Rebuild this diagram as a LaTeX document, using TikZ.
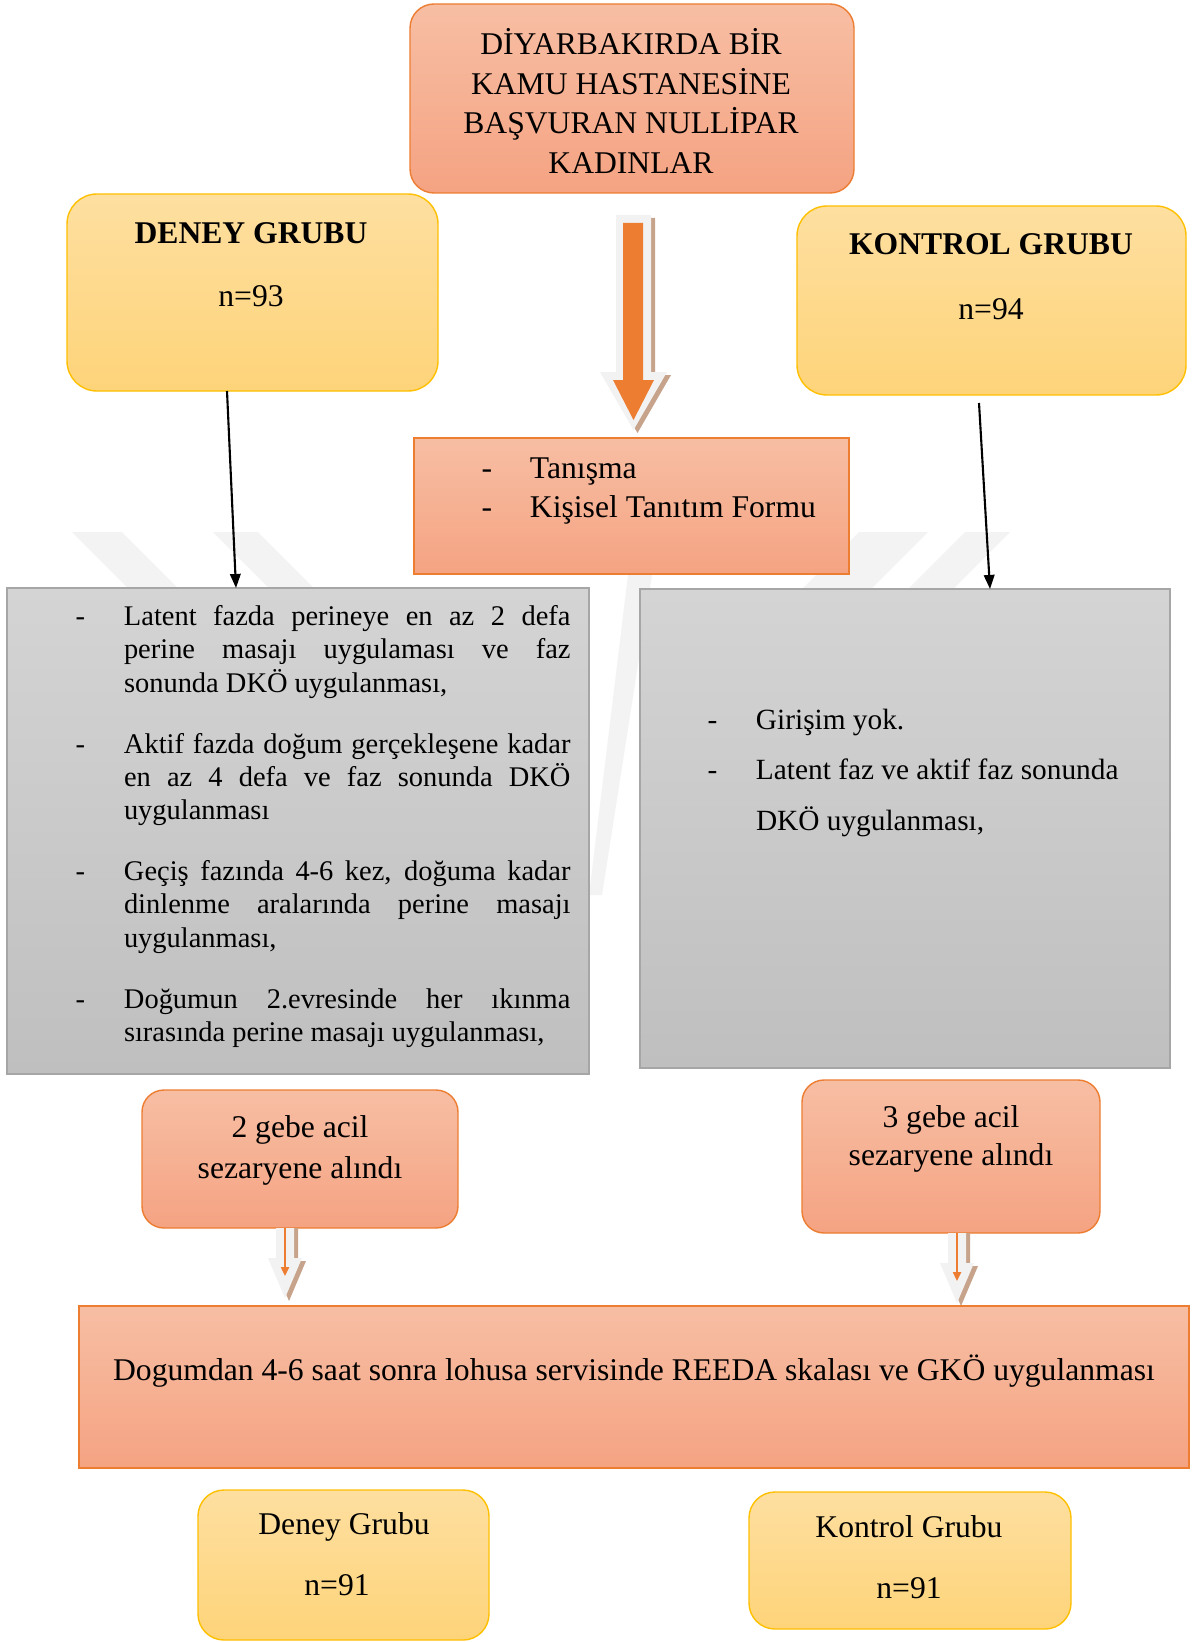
\documentclass[tikz,border=0pt]{standalone}
\usepackage{fontspec}
\setmainfont{Liberation Serif}
\usetikzlibrary{arrows.meta,positioning,calc}
\definecolor{fcSalmonT}{RGB}{247,190,164}
\definecolor{fcSalmonB}{RGB}{245,163,130}
\definecolor{fcOrange} {RGB}{237,125, 49}
\definecolor{fcGoldT}  {RGB}{254,223,160}
\definecolor{fcGoldB}  {RGB}{254,212,122}
\definecolor{fcGold}   {RGB}{255,192,  0}
\definecolor{fcGreyT}  {RGB}{212,212,212}
\definecolor{fcGreyB}  {RGB}{191,191,191}
\definecolor{fcGreyD}  {RGB}{166,166,166}
\definecolor{fcPale}   {RGB}{242,242,242}
\definecolor{fcShade}  {RGB}{198,163,138}
\definecolor{fcMark}   {RGB}{243,243,243}
\newlength{\pxu}
\setlength{\pxu}{0.02cm}
\newcommand{\Item}{\hangindent=48.5\pxu\hangafter=1\makebox[48.5\pxu][l]{-}}
\newcommand{\PaleArr}[1]{%
  \begin{scope}[shift={(#1)}]
    \fill[fcShade] (-5,0) -- (13,0) -- (13,33) -- (21,33) -- (4,73) -- (-13,33) -- (-5,33) -- cycle;
    \fill[fcPale] (-9,0) -- (9,0) -- (9,30) -- (17,30) -- (0,70) -- (-17,30) -- (-9,30) -- cycle;
    \draw[fcOrange,line width=1.1pt,-{Triangle[length=5pt,width=4.5pt]}] (0,0) -- (0,48);
  \end{scope}}

\begin{document}
\begin{tikzpicture}[
    x=0.02cm,y=-0.02cm,
    every node/.style={inner sep=0pt,outer sep=0pt},
    big/.style={font=\fontsize{18}{22.5}\selectfont},
    hdr/.style={font=\fontsize{18}{22}\selectfont\bfseries},
    body/.style={font=\fontsize{16.2}{19}\selectfont},
    salmonbox/.style={rectangle,draw=fcOrange,line width=0.8pt,
                      top color=fcSalmonT,bottom color=fcSalmonB},
    goldbox/.style={rectangle,rounded corners=30\pxu,draw=fcGold,line width=0.8pt,
                    top color=fcGoldT,bottom color=fcGoldB},
    greybox/.style={rectangle,draw=fcGreyD,line width=0.8pt,
                    top color=fcGreyT,bottom color=fcGreyB},
    link/.style={-{Triangle[length=8pt,width=6pt]},line width=1.2pt,black}
  ]
  \fill[white] (0,0) rectangle (1192,1642);
  \useasboundingbox (0,0) rectangle (1192,1642);
  % watermark
  \fill[fcMark] (72,532) -- (122,532) -- (178,588) -- (128,588) -- cycle;
  \fill[fcMark] (213,532) -- (258,532) -- (314,588) -- (269,588) -- cycle;
  \fill[fcMark] (859,532) -- (928,532) -- (872,588) -- (803,588) -- cycle;
  \fill[fcMark] (965,532) -- (1010,532) -- (954,588) -- (909,588) -- cycle;
  \fill[fcMark] (628,575) -- (652,575) -- (602,895) -- (589,895) -- cycle;
  % top
  \node[salmonbox,rounded corners=24\pxu,minimum width=444\pxu,minimum height=189\pxu]
    (top) at (632,98.5) {};
  \node[big,align=center] (topT) at (631,101)
    {DİYARBAKIRDA BİR\\KAMU HASTANESİNE\\BAŞVURAN NULLİPAR\\KADINLAR};
  % groups
  \node[goldbox,minimum width=371\pxu,minimum height=197\pxu] (deney) at (252.5,292.5) {};
  \node[hdr] (deneyT) at (251,233) {DENEY GRUBU};
  \node[big] (deneyN) at (251,296) {n=93};
  \node[goldbox,minimum width=389\pxu,minimum height=189\pxu] (kontrol) at (991.5,300.5) {};
  \node[hdr] (kontrolT) at (991,244) {KONTROL GRUBU};
  \node[big] (kontrolN) at (991,309) {n=94};
  % big arrow
  \begin{scope}[shift={(top.south)}]
    \fill[fcShade] (-12,25) -- (23,25) -- (23,182) -- (39,182) -- (5.5,240) -- (-28,182) -- (-12,182) -- cycle;
    \fill[fcPale] (-16,22) -- (19,22) -- (19,179) -- (35,179) -- (1.5,237) -- (-32,179) -- (-16,179) -- cycle;
    \fill[fcOrange] (-9,30) -- (11,30) -- (11,187) -- (22,187) -- (1.5,227) -- (-19,187) -- (-9,187) -- cycle;
  \end{scope}
  \node[salmonbox,minimum width=435\pxu,minimum height=136\pxu] (tanis) at (631.5,506) {};
  \node[big,anchor=base west] (tanisT) at (481.5,478.5)
    {\begin{minipage}[t]{360\pxu}\fontsize{18}{22}\selectfont
     \Item Tanışma\par
     \Item Kişisel Tanıtım Formu\end{minipage}};
  % grey boxes
  \node[greybox,minimum width=582\pxu,minimum height=486\pxu] (lgrey) at (298,831) {};
  \node[body,anchor=base west] (lgreyT) at (75.5,625.5)
    {\begin{minipage}[t]{495\pxu}\fontsize{16.2}{19}\selectfont
     \parskip=15.6pt\tolerance=10000
     \Item Latent fazda perineye en az 2 defa\linebreak perine masajı uygulaması ve faz\linebreak sonunda DKÖ uygulanması,\par
     \Item Aktif fazda doğum gerçekleşene kadar\linebreak en az 4 defa ve faz sonunda DKÖ\linebreak uygulanması\par
     \Item Geçiş fazında 4-6 kez, doğuma kadar\linebreak dinlenme aralarında perine masajı\linebreak uygulanması,\par
     \Item Doğumun 2.evresinde her ıkınma\linebreak sırasında perine masajı uygulanması,\par
     \end{minipage}};
  \node[greybox,minimum width=530\pxu,minimum height=479\pxu] (rgrey) at (905,828.5) {};
  \node[body,anchor=base west] (rgreyT) at (707.5,729.5)
    {\begin{minipage}[t]{450\pxu}\fontsize{16.7}{28.6}\selectfont
     \Item Girişim yok.\par
     \Item Latent faz ve aktif faz sonunda\newline DKÖ uygulanması,\end{minipage}};
  \draw[link] ([xshift=-25.5\pxu]deney.south) -- ([xshift=-62\pxu]lgrey.north);
  \draw[link] ([xshift=-12.5\pxu,yshift=-8\pxu]kontrol.south) -- ([xshift=85\pxu]rgrey.north);
  % cesarean
  \node[salmonbox,rounded corners=22\pxu,minimum width=316\pxu,minimum height=138\pxu]
    (gebe2) at (300,1159) {};
  \node[big,align=center,font=\fontsize{18}{23}\selectfont] (gebe2T) at (300,1150.5)
    {2 gebe acil\\sezaryene alındı};
  \node[salmonbox,rounded corners=22\pxu,minimum width=298\pxu,minimum height=153\pxu]
    (gebe3) at (951,1156.5) {};
  \node[big,align=center,font=\fontsize{18}{21.5}\selectfont] (gebe3T) at (951,1139)
    {3 gebe acil\\sezaryene alındı};
  \coordinate (s2) at ([xshift=-15\pxu]gebe2.south);
  \coordinate (s3) at ([xshift=6\pxu]gebe3.south);
  \PaleArr{s2}
  \PaleArr{s3}
  % postpartum
  \node[salmonbox,minimum width=1110\pxu,minimum height=162\pxu] (reeda) at (634,1387) {};
  \node[big] (reedaT) at (634,1371)
    {Dogumdan 4-6 saat sonra lohusa servisinde REEDA skalası ve GKÖ uygulanması};
  \node[goldbox,rounded corners=26\pxu,minimum width=291\pxu,minimum height=150\pxu]
    (deney2) at (343.5,1565) {};
  \node[big] (deney2T) at (344,1527) {Deney Grubu};
  \node[big] (deney2N) at (337,1585) {n=91};
  \node[goldbox,rounded corners=26\pxu,minimum width=322\pxu,minimum height=137\pxu]
    (kontrol2) at (910,1560.5) {};
  \node[big] (kontrol2T) at (909,1527) {Kontrol Grubu};
  \node[big] (kontrol2N) at (909,1588) {n=91};
\end{tikzpicture}
\end{document}
